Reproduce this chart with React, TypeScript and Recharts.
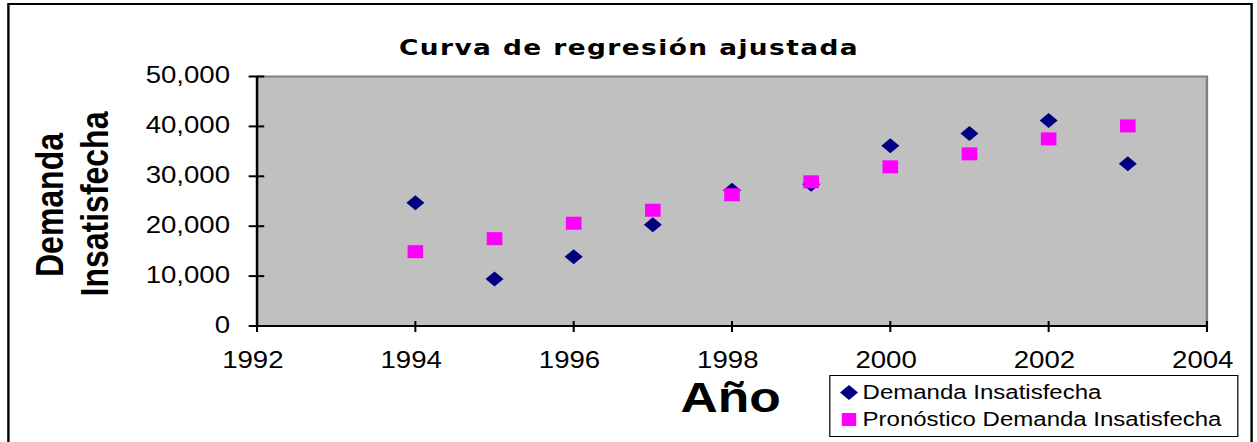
import { ScatterChart, Scatter, XAxis, YAxis, ReferenceArea, Legend } from 'recharts';

// the source image is stretched horizontally, so draw narrow and scale x
const STRETCH = 1.2;
const W = 1257 / STRETCH;
const H = 442;
const FONT = '"Liberation Sans", Arial, sans-serif';

const years = [1994, 1995, 1996, 1997, 1998, 1999, 2000, 2001, 2002, 2003];
const demanda = [24700, 9400, 13900, 20300, 27200, 28400, 36100, 38600, 41200, 32500];
const pronostico = [14900, 17500, 20600, 23200, 26300, 28900, 31900, 34500, 37500, 40100];
const xTicks = [1992, 1994, 1996, 1998, 2000, 2002, 2004];
const yTicks = [0, 10000, 20000, 30000, 40000, 50000];

const demandaData = years.map((year, i) => ({ year, value: demanda[i] }));
const pronosticoData = years.map((year, i) => ({ year, value: pronostico[i] }));

const NAVY = '#000080';
const MAGENTA = '#FF00FF';

function Diamond(props: any) {
  const { cx, cy } = props;
  const r = 7.5;
  return (
    <polygon
      points={`${cx},${cy - r} ${cx + r},${cy} ${cx},${cy + r} ${cx - r},${cy}`}
      fill={NAVY}
    />
  );
}

function Square(props: any) {
  const { cx, cy } = props;
  return <rect x={cx - 6.5} y={cy - 6.5} width={13} height={13} fill={MAGENTA} />;
}

function YTick(props: any) {
  const { x, y, payload } = props;
  return (
    <g>
      <line x1={x - 7} x2={x + 6} y1={y} y2={y} stroke="#000" strokeWidth={2} />
      <text x={x - 22.5} y={y + 7} textAnchor="end" fontSize={23} fontFamily={FONT} fill="#000">
        {Number(payload.value).toLocaleString('en-US')}
      </text>
    </g>
  );
}

function XTick(props: any) {
  const { x, y, payload } = props;
  return (
    <g>
      <line x1={x} x2={x} y1={y - 5} y2={y + 6} stroke="#000" strokeWidth={1.7} />
      <text x={x - 3.5} y={y + 42} textAnchor="middle" fontSize={23} fontFamily={FONT} fill="#000">
        {payload.value}
      </text>
    </g>
  );
}

function LegendBox() {
  const row = { display: 'flex', alignItems: 'center', height: 27 } as const;
  return (
    <div
      style={{
        boxSizing: 'border-box',
        width: 341.7,
        height: 62,
        border: '1.5px solid #000',
        background: '#fff',
        fontFamily: FONT,
        fontSize: 20,
        color: '#000',
        paddingTop: 3,
        lineHeight: '27px',
      }}
    >
      <div style={row}>
        <svg width={15} height={15} style={{ marginLeft: 8, marginRight: 4 }}>
          <Diamond cx={7.5} cy={7.5} />
        </svg>
        <span>Demanda Insatisfecha</span>
      </div>
      <div style={row}>
        <svg width={15} height={15} style={{ marginLeft: 8, marginRight: 4 }}>
          <rect x={1.5} y={1} width={12} height={13} fill={MAGENTA} />
        </svg>
        <span>Pronóstico Demanda Insatisfecha</span>
      </div>
    </div>
  );
}

export default function App() {
  return (
    <div style={{ position: 'absolute', left: 0, top: 0, width: 1257, height: H, overflow: 'hidden', background: '#fff' }}>
      <div style={{ position: 'absolute', left: 0, top: 0, width: W, height: H, transform: `scaleX(${STRETCH})`, transformOrigin: '0 0' }}>
        <div
          style={{
            position: 'absolute',
            left: 5.8,
            top: 3,
            width: 1038.4,
            height: 480,
            boxSizing: 'border-box',
            border: '2px solid #000',
          }}
        />
        <ScatterChart width={W} height={H} margin={{ top: 76.5, right: 41.7, bottom: 76, left: 0 }}>
          <ReferenceArea
            x1={1992}
            x2={2004}
            y1={0}
            y2={50000}
            fill="#C0C0C0"
            fillOpacity={1}
            stroke="#808080"
            strokeWidth={2}
          />
          <XAxis
            type="number"
            dataKey="year"
            domain={[1992, 2004]}
            ticks={xTicks}
            height={40}
            tickSize={0}
            tickMargin={0}
            tickLine={false}
            axisLine={{ stroke: '#000', strokeWidth: 2 }}
            tick={<XTick />}
            interval={0}
          />
          <YAxis
            type="number"
            dataKey="value"
            domain={[0, 50000]}
            ticks={yTicks}
            width={214.2}
            tickSize={0}
            tickMargin={0}
            tickLine={false}
            axisLine={{ stroke: '#000', strokeWidth: 2 }}
            tick={<YTick />}
            interval={0}
          />
          <Scatter name="Demanda Insatisfecha" data={demandaData} shape={Diamond} isAnimationActive={false} />
          <Scatter name="Pronóstico Demanda Insatisfecha" data={pronosticoData} shape={Square} isAnimationActive={false} />
          <Legend
            layout="horizontal"
            verticalAlign="middle"
            align="center"
            wrapperStyle={{ left: 690.8, top: 375, width: 341.7, height: 62 }}
            content={() => <LegendBox />}
          />
        </ScatterChart>
        <svg width={W} height={H} style={{ position: 'absolute', left: 0, top: 0, pointerEvents: 'none' }}>
          <text x={524.2} y={55} textAnchor="middle" fontSize={22} fontWeight="bold" fontFamily='"DejaVu Sans", Verdana, sans-serif' letterSpacing={1.2} fill="#000">
            Curva de regresión ajustada
          </text>
          <text transform="translate(52.5,205) rotate(-90)" textAnchor="middle" fontSize={32} fontWeight="bold" fontFamily={FONT} fill="#000">
            Demanda
          </text>
          <text transform="translate(90,204) rotate(-90)" textAnchor="middle" fontSize={32} fontWeight="bold" fontFamily={FONT} fill="#000">
            Insatisfecha
          </text>
          <text x={608.8} y={412} textAnchor="middle" fontSize={43} fontWeight="bold" fontFamily={FONT} fill="#000">
            Año
          </text>
        </svg>
      </div>
    </div>
  );
}
